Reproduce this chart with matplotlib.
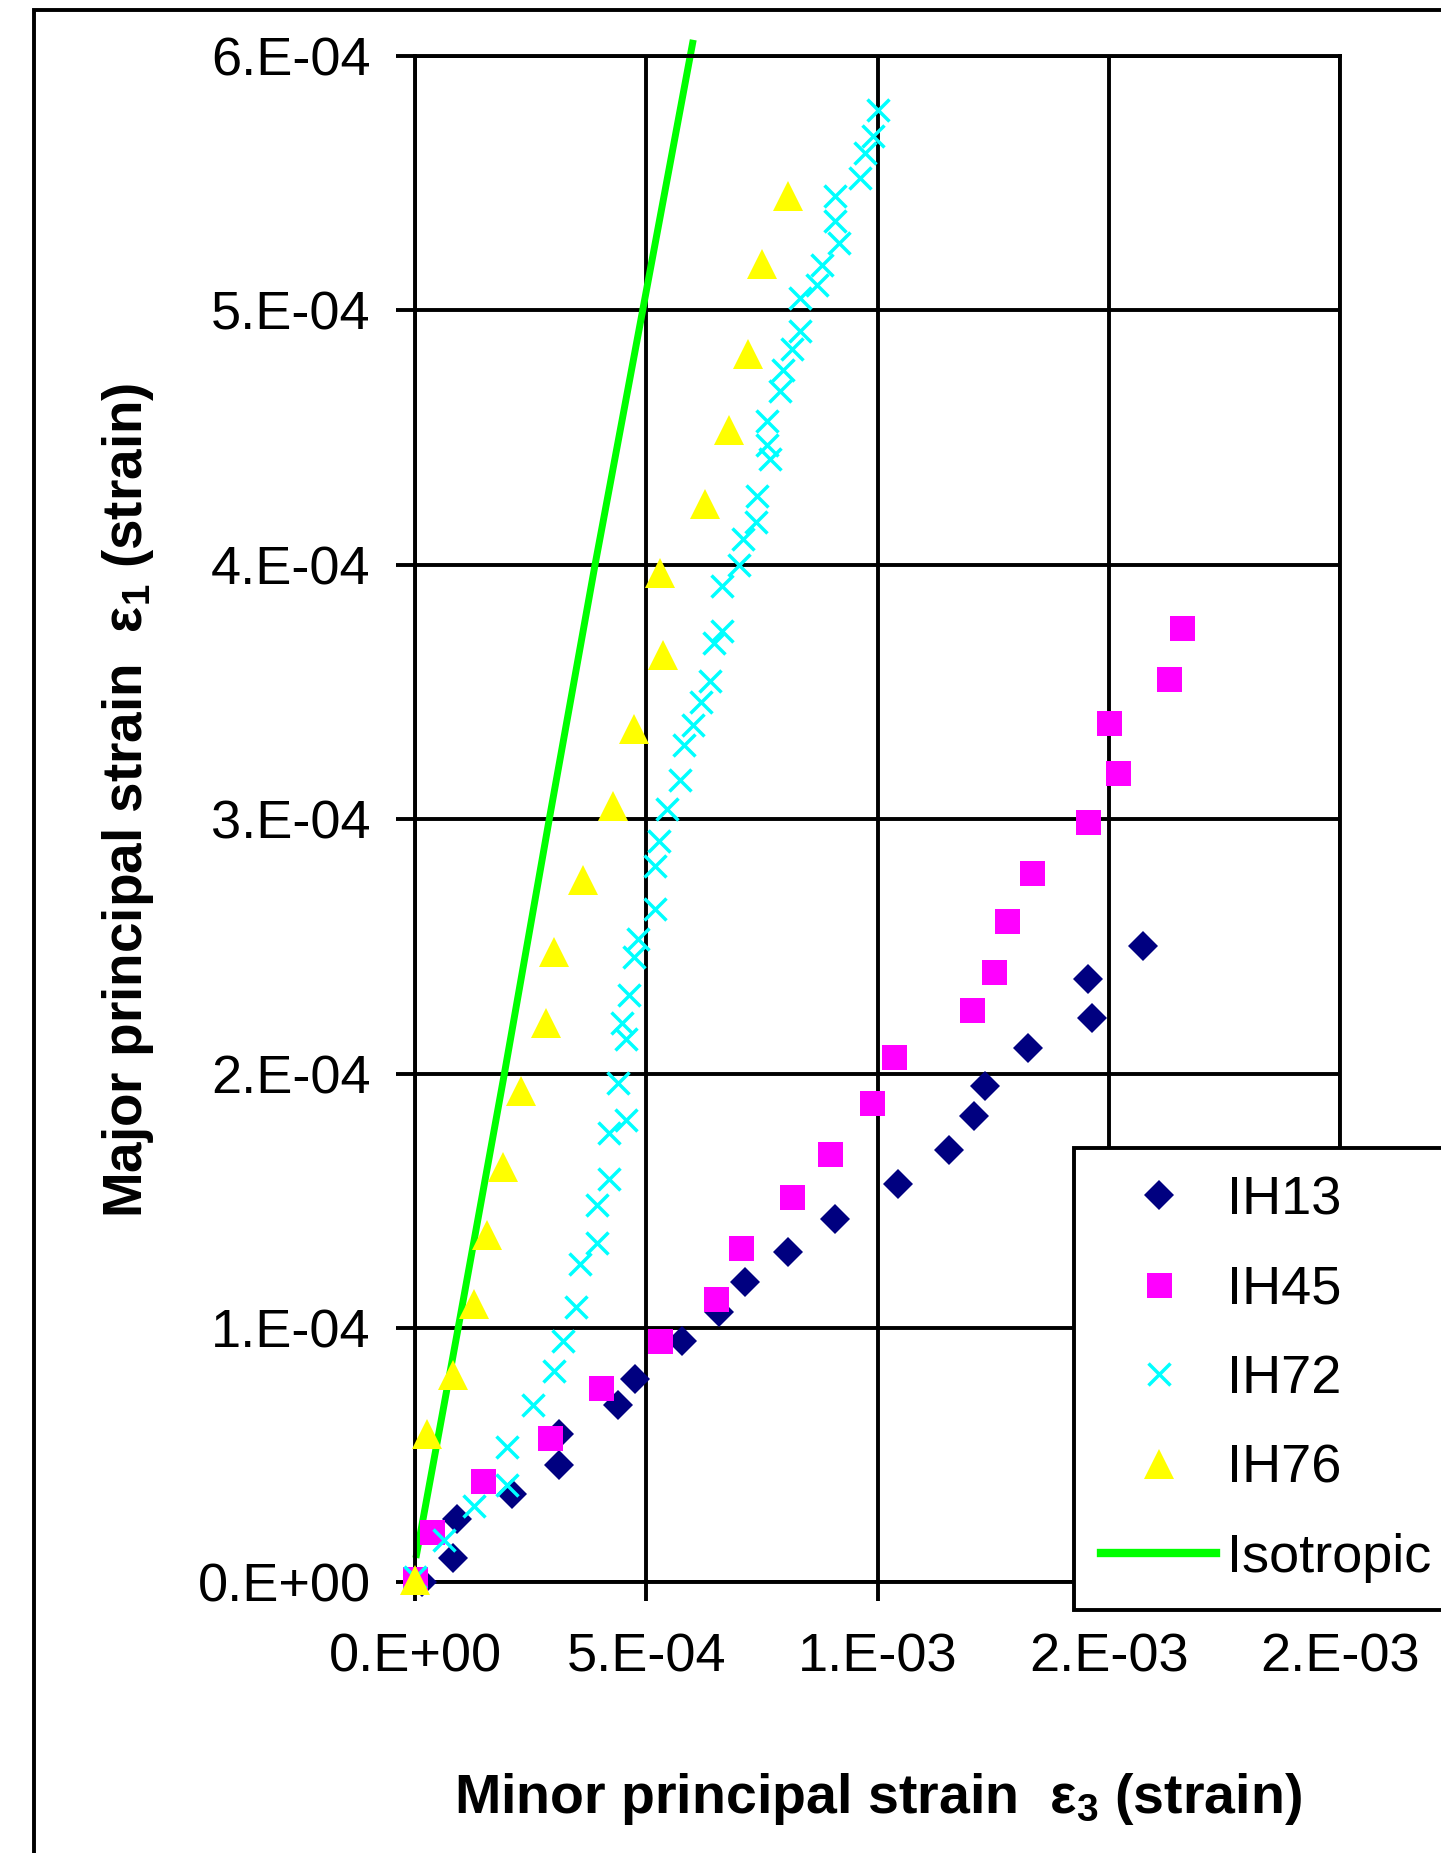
import matplotlib.pyplot as plt
from matplotlib.lines import Line2D
from matplotlib.patches import Rectangle

plt.rcParams['font.family'] = ['Liberation Sans', 'DejaVu Sans']
plt.rcParams['mathtext.fontset'] = 'custom'
plt.rcParams['mathtext.rm'] = 'Liberation Sans'
plt.rcParams['mathtext.it'] = 'Liberation Sans:italic'
plt.rcParams['mathtext.bf'] = 'Liberation Sans:bold'

# all strains, in units of 1e-4
ih13_e3 = [0.15, 0.81, 0.91, 2.09, 3.10, 3.10, 4.39, 4.76, 5.77, 6.58, 7.14, 8.06, 9.07,
           10.45, 11.55, 12.08, 12.33, 13.25, 14.55, 14.64, 15.75]
ih13_e1 = [0.0, 0.098, 0.248, 0.346, 0.462, 0.582, 0.698, 0.80, 0.95, 1.063, 1.18, 1.30, 1.43,
           1.567, 1.70, 1.835, 1.95, 2.10, 2.37, 2.22, 2.50]

ih45_e3 = [0.0, 0.36, 1.46, 2.92, 4.02, 5.30, 6.50, 7.05, 8.16, 8.98, 9.89, 10.36, 12.05,
           12.51, 12.79, 13.35, 14.54, 15.19, 15.0, 16.30, 16.58]
ih45_e1 = [0.015, 0.198, 0.40, 0.567, 0.765, 0.95, 1.116, 1.316, 1.516, 1.683, 1.883, 2.066, 2.25,
           2.40, 2.60, 2.79, 2.99, 3.18, 3.38, 3.55, 3.75]

ih72_e3 = [0.0, 0.63, 1.27, 1.99, 1.99, 2.55, 3.01, 3.19, 3.47, 3.56, 3.93, 3.93, 4.20, 4.20,
           4.57, 4.38, 4.57, 4.48, 4.63, 4.73, 4.82, 5.19, 5.19, 5.27, 5.45, 5.73, 5.82, 6.00,
           6.19, 6.37, 6.46, 6.64, 6.64, 7.01, 7.10, 7.38, 7.40, 7.68, 7.60, 7.60, 7.88, 7.96,
           8.15, 8.33, 8.33, 8.70, 8.80, 9.16, 9.08, 9.08, 9.62, 9.72, 9.90, 10.0]
ih72_e1 = [0.02, 0.165, 0.30, 0.382, 0.532, 0.698, 0.833, 0.95, 1.083, 1.251, 1.334, 1.484, 1.585, 1.767,
           1.818, 1.965, 2.135, 2.20, 2.31, 2.457, 2.53, 2.646, 2.817, 2.916, 3.04, 3.153, 3.29, 3.372,
           3.459, 3.544, 3.694, 3.74, 3.916, 4.0, 4.10, 4.169, 4.27, 4.416, 4.47, 4.567, 4.685, 4.764,
           4.85, 4.92, 5.05, 5.10, 5.18, 5.265, 5.35, 5.45, 5.52, 5.62, 5.685, 5.787]

ih76_e3 = [0.0, 0.26, 0.81, 1.27, 1.55, 1.91, 2.28, 2.83, 3.00, 3.63, 4.28, 4.73, 5.37, 5.29,
           6.27, 6.79, 7.19, 7.50, 8.06]
ih76_e1 = [0.01, 0.583, 0.815, 1.096, 1.364, 1.632, 1.932, 2.198, 2.477, 2.763, 3.052, 3.355, 3.644, 3.967,
           4.24, 4.528, 4.83, 5.184, 5.45]

iso_e3 = [0.03, 0.93, 1.93, 2.90, 3.89, 4.92, 6.00]
iso_e1 = [0.11, 1.0, 2.0, 3.0, 4.0, 5.0, 6.05]

x_ticks = [0, 5e-4, 1e-3, 1.5e-3, 2e-3]
x_tick_labels = ["0.E+00", "5.E-04", "1.E-03", "2.E-03", "2.E-03"]
y_ticks = [0, 1e-4, 2e-4, 3e-4, 4e-4, 5e-4, 6e-4]
y_tick_labels = ["0.E+00", "1.E-04", "2.E-04", "3.E-04", "4.E-04", "5.E-04", "6.E-04"]

u = 1e-4
sc = lambda v: [a * u for a in v]

fig = plt.figure(figsize=(14.41, 18.53), dpi=100)
ax = fig.add_axes([0.2881, 0.1460, 0.6418, 0.8238])

ax.plot(sc(iso_e3), sc(iso_e1), color='#00FF00', lw=5, clip_on=False, zorder=2)
ax.plot(sc(ih13_e3), sc(ih13_e1), ls='none', marker='D', ms=14.8, color='#000080',
        mew=0, clip_on=False, zorder=3)
ax.plot(sc(ih45_e3), sc(ih45_e1), ls='none', marker='s', ms=18, color='#FF00FF',
        mew=0, clip_on=False, zorder=3)
ax.plot(sc(ih72_e3), sc(ih72_e1), ls='none', marker='x', ms=15.5, color='#00FFFF',
        mew=2.5, clip_on=False, zorder=3)
ax.plot(sc(ih76_e3), sc(ih76_e1), ls='none', marker='^', ms=21.5, color='#FFFF00',
        mew=0, clip_on=False, zorder=3)

ax.set_xlim(0, 2e-3)
ax.set_ylim(0, 6e-4)
ax.set_xticks(x_ticks)
ax.set_xticklabels(x_tick_labels)
ax.set_yticks(y_ticks)
ax.set_yticklabels(y_tick_labels)
ax.tick_params(labelsize=39, length=14, width=2.8, direction='out', color='black')
ax.tick_params(axis='x', pad=22)
ax.tick_params(axis='y', pad=18)
ax.grid(True, color='black', lw=2.8)
ax.set_axisbelow(True)
for s in ax.spines.values():
    s.set_linewidth(2.8)

fig.text(0.089, 0.568, 'Major principal strain  $\\mathregular{ε_1}$ (strain)', rotation=90,
         ha='center', va='center', fontsize=39.5, fontweight='bold')
fig.text(0.609, 0.029, 'Minor principal strain  $\\mathregular{ε_3}$ (strain)',
         ha='center', va='center', fontsize=40, fontweight='bold')

handles = [
    Line2D([], [], ls='none', marker='D', ms=14.8, color='#000080', mew=0),
    Line2D([], [], ls='none', marker='s', ms=18, color='#FF00FF', mew=0),
    Line2D([], [], ls='none', marker='x', ms=15.5, color='#00FFFF', mew=2.5),
    Line2D([], [], ls='none', marker='^', ms=21.5, color='#FFFF00', mew=0),
    Line2D([], [], color='#00FF00', lw=6),
]
labels = ["IH13", "IH45", "IH72", "IH76", "Isotropic"]
leg = ax.legend(handles, labels, loc='upper left', bbox_to_anchor=(1074 / 1441, 1 - 1148 / 1853),
                bbox_transform=fig.transFigure, borderaxespad=0, fontsize=39, frameon=True,
                fancybox=False, framealpha=1, edgecolor='black', handlelength=2.12,
                handletextpad=0.2, borderpad=0.5, labelspacing=0.73, numpoints=1)
leg.get_frame().set_linewidth(2.8)
leg.set_zorder(5)

# outer chart border, cut off on the right and bottom
fig.add_artist(Rectangle((34 / 1441, -0.5), 2, 1.5 - 10 / 1853, transform=fig.transFigure,
                         fill=False, lw=2.8, edgecolor='black'))

plt.savefig('out.png', dpi=100)
